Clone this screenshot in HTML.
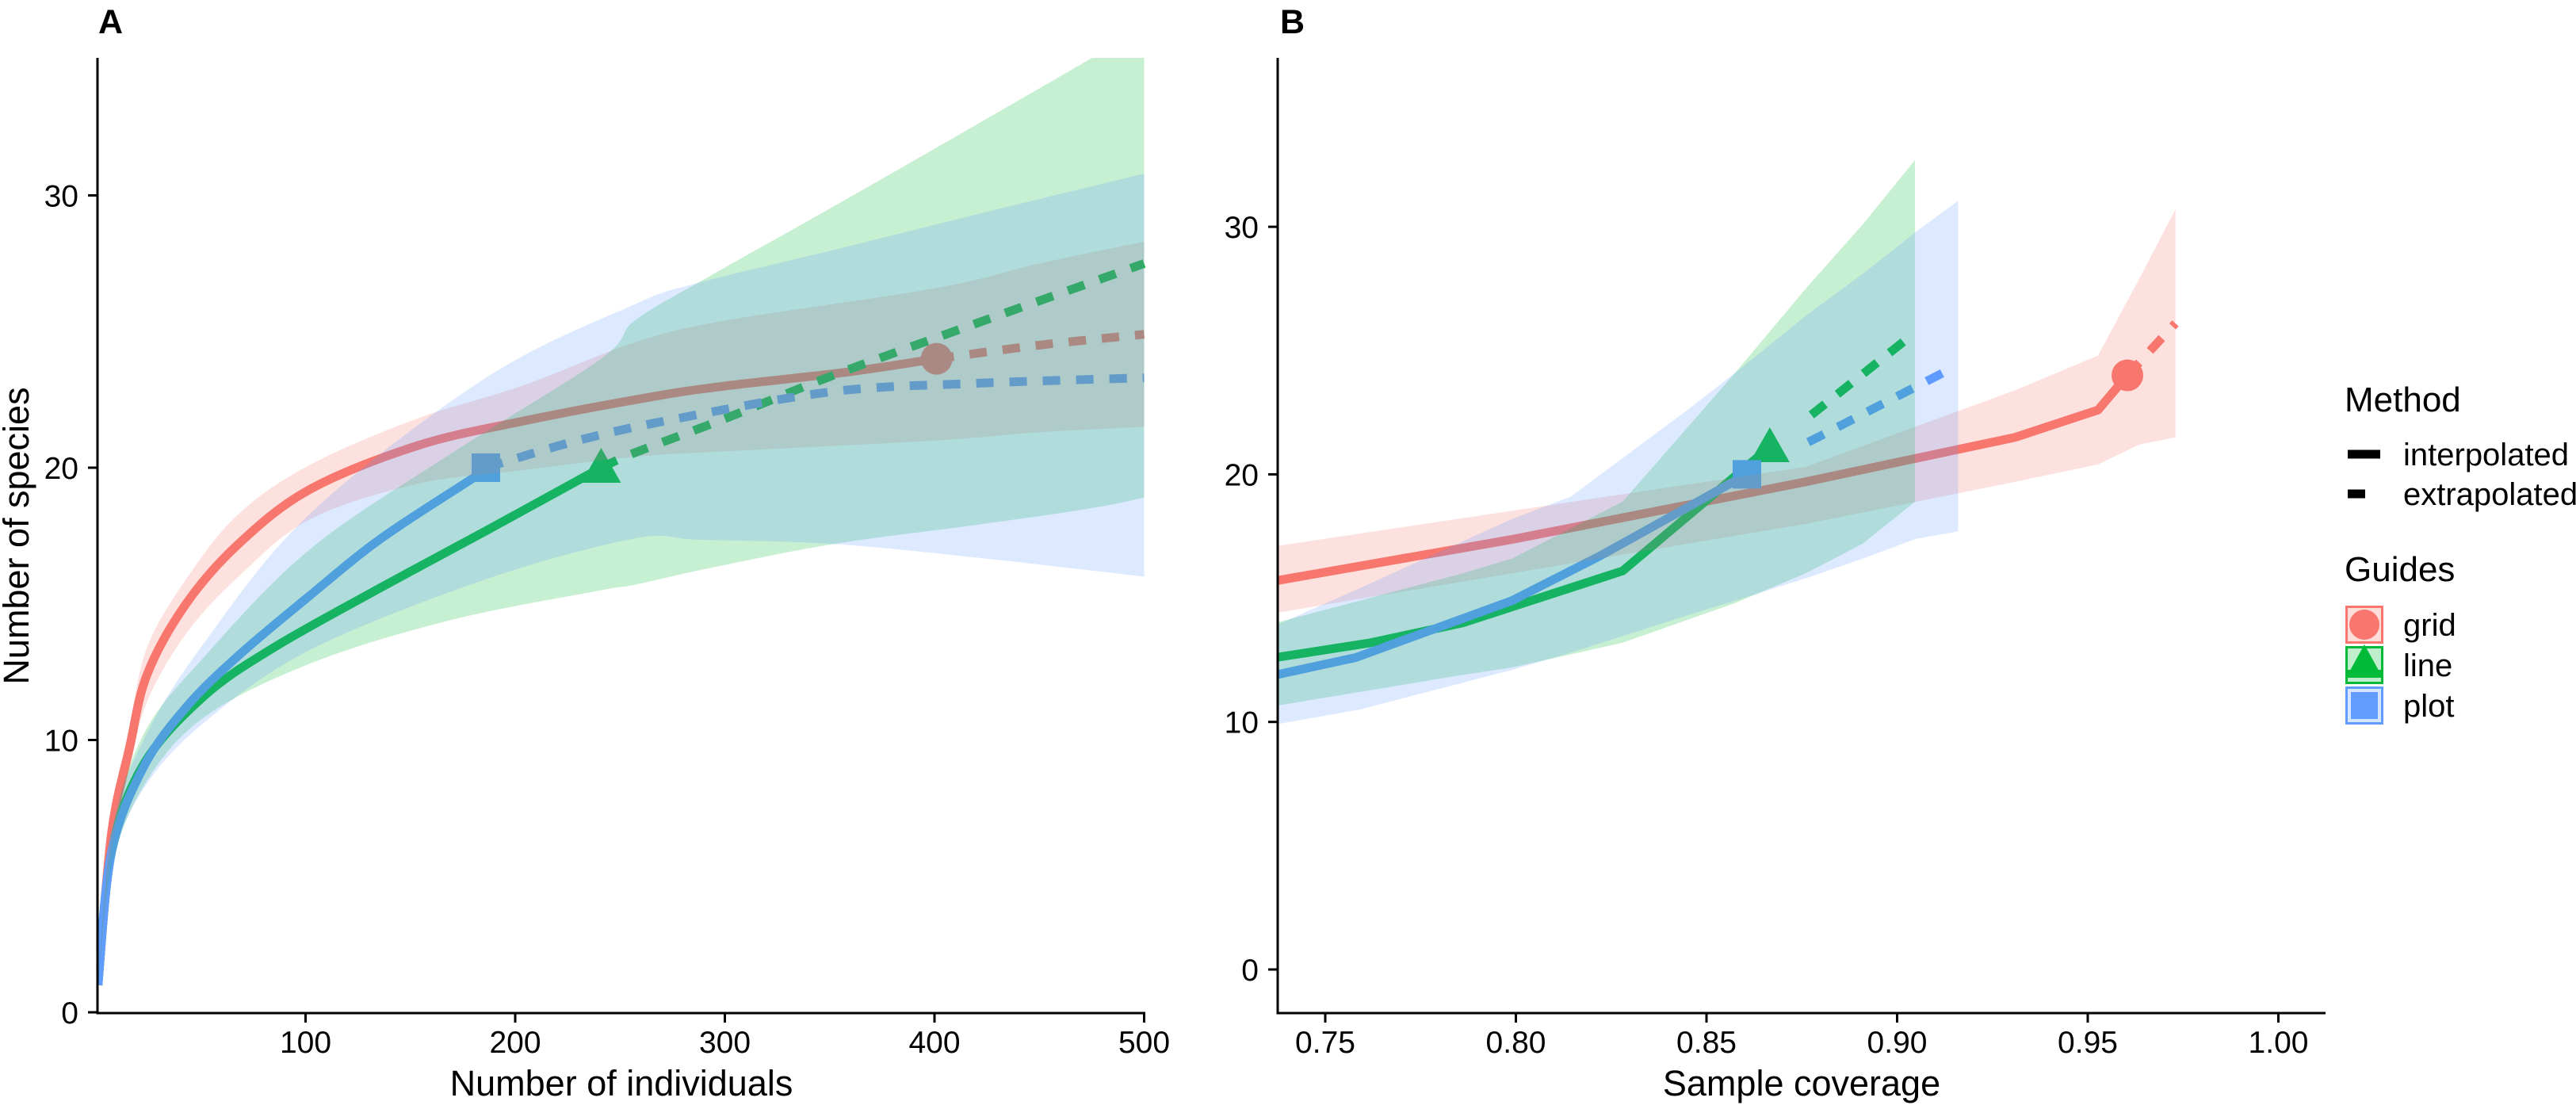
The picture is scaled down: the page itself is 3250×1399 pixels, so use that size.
<!DOCTYPE html>
<html><head><meta charset="utf-8"><style>
html,body{margin:0;padding:0;background:#fff;}
svg text{font-family:"Liberation Sans",Arial,sans-serif;fill:#000;}
</style></head><body>
<svg id="chart" width="3250" height="1394" viewBox="0 0 3250 1394" xmlns="http://www.w3.org/2000/svg">
<defs>
<clipPath id="clipA"><rect x="123" y="73" width="1322" height="1205"/></clipPath>
<clipPath id="clipB"><rect x="1612" y="73" width="1322" height="1205"/></clipPath>
</defs>
<g id="panelA"></g>
<g id="panelB"></g>
<g id="legend"></g>
</svg>
<script>
// ---------- Panel A data (Number of individuals) ----------
const aXTicks = [100, 200, 300, 400, 500];
const aYTicks = [0, 10, 20, 30];
const aGridInterpX = [1, 7.5, 16, 24.4, 43, 68, 102, 153, 203, 265, 300, 357, 401];
const aGridInterpY = [1, 6.6, 9.7, 12.4, 15.0, 17.2, 19.2, 20.8, 21.7, 22.6, 23.0, 23.5, 24.0];
const aGridExtraX = [401, 450, 500];
const aGridExtraY = [24.0, 24.5, 24.9];
const aGridBandX = [1, 7.5, 16, 24.4, 43, 68, 102, 153, 203, 257, 300, 401, 450, 500];
const aGridBandLo = [1, 6, 8.9, 11.4, 13.9, 16, 18.1, 19.4, 19.9, 20.4, 20.6, 21.0, 21.3, 21.5];
const aGridBandHi = [1, 7.2, 10.5, 13.4, 15.9, 18.3, 20.1, 21.8, 23.0, 24.6, 25.4, 26.6, 27.5, 28.3];
const aPlotInterpX = [1, 7.5, 22.7, 43, 68, 102, 136, 181.5, 186];
const aPlotInterpY = [1, 5.9, 9.0, 11.2, 13.1, 15.3, 17.4, 19.7, 20];
const aPlotExtraX = [186, 230, 277, 352, 420, 500];
const aPlotExtraY = [20, 21.0, 21.8, 22.8, 23.1, 23.3];
const aPlotBandX = [1, 7.5, 22.7, 51, 102, 186, 257, 288, 352, 420, 500];
const aPlotBandLo = [1, 5.4, 8.2, 10.6, 13.3, 15.9, 17.4, 17.35, 17.2, 16.7, 16.0];
const aPlotBandHi = [1, 6.6, 10.0, 13.5, 18.3, 23.3, 26.0, 26.8, 28.0, 29.3, 30.8];
const aLineInterpX = [1, 7.5, 22.7, 51.4, 85, 136, 186.5, 241];
const aLineInterpY = [1, 5.9, 9.1, 11.6, 13.4, 15.6, 17.7, 20];
const aLineExtraX = [241, 257, 300, 352, 420, 500];
const aLineExtraY = [20, 20.55, 21.8, 23.4, 25.3, 27.5];
const aLineBandX = [1, 7.5, 22.7, 51, 102, 169, 241, 257, 292, 352, 420, 474, 500];
const aLineBandLo = [1, 5.3, 8.3, 10.8, 12.8, 14.4, 15.5, 15.7, 16.3, 17.2, 17.9, 18.5, 18.9];
const aLineBandHi = [1, 6.5, 10.2, 13.0, 17.0, 20.5, 24.0, 25.4, 27.0, 29.6, 32.6, 35, 36.2];

// ---------- Panel B data (Sample coverage) ----------
const bXTicks = [0.75, 0.80, 0.85, 0.90, 0.95, 1.00];
const bXTickLabels = ["0.75", "0.80", "0.85", "0.90", "0.95", "1.00"];
const bYTicks = [0, 10, 20, 30];
const bGridInterpX = [0.737, 0.80, 0.876, 0.931, 0.9527, 0.9604];
const bGridInterpY = [15.7, 17.4, 19.7, 21.5, 22.6, 24.0];
const bGridExtraX = [0.9604, 0.973];
const bGridExtraY = [24.0, 26.1];
const bGridBandX = [0.737, 0.876, 0.931, 0.9527, 0.9635, 0.973];
const bGridBandLo = [14.4, 18.0, 19.7, 20.4, 21.2, 21.5];
const bGridBandHi = [17.1, 20.3, 23.4, 24.8, 27.9, 30.7];
const bLineInterpX = [0.737, 0.762, 0.786, 0.828, 0.8666];
const bLineInterpY = [12.6, 13.2, 14.0, 16.1, 21.1];
const bLineExtraX = [0.8775, 0.902];
const bLineExtraY = [22.4, 25.4];
const bLineBandX = [0.737, 0.786, 0.799, 0.828, 0.8575, 0.876, 0.891, 0.9047];
const bLineBandLo = [10.65, 11.9, 12.2, 13.2, 14.8, 16.0, 17.2, 18.9];
const bLineBandHi = [14.0, 16.0, 16.6, 18.9, 24.1, 27.5, 30.1, 32.7];
const bPlotInterpX = [0.737, 0.758, 0.799, 0.822, 0.8606];
const bPlotInterpY = [11.9, 12.6, 14.9, 16.7, 20.0];
const bPlotExtraX = [0.8767, 0.912];
const bPlotExtraY = [21.3, 24.1];
const bPlotBandX = [0.737, 0.759, 0.799, 0.8144, 0.845, 0.8575, 0.876, 0.891, 0.905, 0.916];
const bPlotBandLo = [9.9, 10.5, 12.1, 12.8, 14.3, 14.9, 15.8, 16.6, 17.4, 17.7];
const bPlotBandHi = [13.9, 15.4, 18.2, 19.1, 22.6, 24.1, 26.4, 28.1, 29.8, 31.05];

const COLORS = {grid: "#F8766D", line: "#00BA38", plot: "#619CFF"};
const NS = "http://www.w3.org/2000/svg";
function mk(tag, attrs, parent) {
  const e = document.createElementNS(NS, tag);
  for (const k in attrs) e.setAttribute(k, attrs[k]);
  parent.appendChild(e);
  return e;
}
function linScale(d0, d1, r0, r1) { return v => r0 + (v - d0) / (d1 - d0) * (r1 - r0); }

// path through points; smooth uses Catmull-Rom
function pathD(pts, smooth, move) {
  let d = (move ? "M" : "L") + pts[0][0].toFixed(1) + "," + pts[0][1].toFixed(1);
  for (let i = 0; i < pts.length - 1; i++) {
    const p1 = pts[i], p2 = pts[i + 1];
    if (!smooth) { d += "L" + p2[0].toFixed(1) + "," + p2[1].toFixed(1); continue; }
    const p0 = pts[i - 1] || p1, p3 = pts[i + 2] || p2;
    const c1x = p1[0] + (p2[0] - p0[0]) / 6, c1y = p1[1] + (p2[1] - p0[1]) / 6;
    const c2x = p2[0] - (p3[0] - p1[0]) / 6, c2y = p2[1] - (p3[1] - p1[1]) / 6;
    d += "C" + c1x.toFixed(1) + "," + c1y.toFixed(1) + " " + c2x.toFixed(1) + "," + c2y.toFixed(1) + " " + p2[0].toFixed(1) + "," + p2[1].toFixed(1);
  }
  return d;
}

function drawMarker(g, kind, cx, cy, color) {
  let m;
  if (kind === "grid") m = mk("circle", {cx: cx, cy: cy, r: 20, fill: color}, g);
  else if (kind === "line") m = mk("polygon", {points: (cx - 25) + "," + (cy + 19) + " " + (cx + 25) + "," + (cy + 19) + " " + cx + "," + (cy - 25), fill: color}, g);
  else m = mk("rect", {x: cx - 18, y: cy - 18, width: 36, height: 36, fill: color}, g);
  return m;
}

function drawPanel(g, clipId, sx, sy, axisX0, axisX1, xTicks, xLabels, yTicks, xTitle, titleX, panelLabel, labelX, series, smooth) {
  const plot = mk("g", {"clip-path": "url(#" + clipId + ")"}, g);
  series.forEach(s => {
    const pts = s.ix.map((v, i) => [sx(v), sy(s.iy[i])]);
    const l = mk("path", {d: pathD(pts, smooth, true), fill: "none", stroke: COLORS[s.k], "stroke-width": 11, "stroke-linejoin": "round"}, plot);
    
    
    const ep = s.ex.map((v, i) => [sx(v), sy(s.ey[i])]);
    const d = mk("path", {d: pathD(ep, smooth, true), fill: "none", stroke: COLORS[s.k], "stroke-width": 11, "stroke-dasharray": "22 20"}, plot);
    
    
  });
  series.forEach(s => {
    const n = s.ix.length - 1;
    const m = drawMarker(plot, s.k, sx(s.ix[n]), sy(s.iy[n]), COLORS[s.k]);
    
    
  });
  series.forEach(s => {
    const up = s.bx.map((v, i) => [sx(v), sy(s.bh[i])]);
    const lo = s.bx.map((v, i) => [sx(v), sy(s.bl[i])]).reverse();
    const dd = pathD(up, smooth, true) + pathD(lo, smooth, false) + "Z";
    const b = mk("path", {d: dd, fill: COLORS[s.k], "fill-opacity": 0.22}, plot);
    
    
  });
  const xa = mk("line", {x1: axisX0, y1: 1278, x2: axisX1, y2: 1278, stroke: "#000", "stroke-width": 3}, g);
  
  
  const ya = mk("line", {x1: axisX0, y1: 73, x2: axisX0, y2: 1279.5, stroke: "#000", "stroke-width": 3}, g);
  
  
  xTicks.forEach((v, i) => {
    const x = sx(v);
    mk("line", {x1: x, y1: 1278, x2: x, y2: 1290, stroke: "#000", "stroke-width": 3}, g);
    const t = mk("text", {x: x, y: 1328, "font-size": 39, "text-anchor": "middle"}, g);
    t.textContent = xLabels[i];
    
    
  });
  yTicks.forEach(v => {
    const y = sy(v);
    mk("line", {x1: axisX0 - 12, y1: y, x2: axisX0, y2: y, stroke: "#000", "stroke-width": 3}, g);
    const t = mk("text", {x: axisX0 - 24, y: y + 14, "font-size": 39, "text-anchor": "end"}, g);
    t.textContent = String(v);
    
    
  });
  const xt = mk("text", {x: titleX, y: 1382, "font-size": 45, "text-anchor": "middle"}, g);
  xt.textContent = xTitle;
  
  
  const pl = mk("text", {x: labelX, y: 42, "font-size": 43, "font-weight": "bold"}, g);
  pl.textContent = panelLabel;
  
  
}

const sxA = linScale(0, 100, 121, 385.5);
const syA = linScale(0, 10, 1277, 933.5);
drawPanel(document.getElementById("panelA"), "clipA", sxA, syA, 123, 1445, aXTicks, aXTicks.map(String), aYTicks,
  "Number of individuals", 784, "A", 124, [
  {k: "grid", ix: aGridInterpX, iy: aGridInterpY, ex: aGridExtraX, ey: aGridExtraY, bx: aGridBandX, bl: aGridBandLo, bh: aGridBandHi},
  {k: "line", ix: aLineInterpX, iy: aLineInterpY, ex: aLineExtraX, ey: aLineExtraY, bx: aLineBandX, bl: aLineBandLo, bh: aLineBandHi},
  {k: "plot", ix: aPlotInterpX, iy: aPlotInterpY, ex: aPlotExtraX, ey: aPlotExtraY, bx: aPlotBandX, bl: aPlotBandLo, bh: aPlotBandHi}
], true);
const yTitle = mk("text", {x: 0, y: 0, "font-size": 45, "text-anchor": "middle", transform: "translate(36,676) rotate(-90)"}, document.getElementById("panelA"));
yTitle.textContent = "Number of species";



const sxB = linScale(0.75, 0.80, 1672, 1912.5);
const syB = linScale(0, 10, 1223, 910.7);
drawPanel(document.getElementById("panelB"), "clipB", sxB, syB, 1612, 2934, bXTicks, bXTickLabels, bYTicks,
  "Sample coverage", 2273, "B", 1615, [
  {k: "grid", ix: bGridInterpX, iy: bGridInterpY, ex: bGridExtraX, ey: bGridExtraY, bx: bGridBandX, bl: bGridBandLo, bh: bGridBandHi},
  {k: "line", ix: bLineInterpX, iy: bLineInterpY, ex: bLineExtraX, ey: bLineExtraY, bx: bLineBandX, bl: bLineBandLo, bh: bLineBandHi},
  {k: "plot", ix: bPlotInterpX, iy: bPlotInterpY, ex: bPlotExtraX, ey: bPlotExtraY, bx: bPlotBandX, bl: bPlotBandLo, bh: bPlotBandHi}
], false);

const lg = document.getElementById("legend");
const mt = mk("text", {x: 2958, y: 519, "font-size": 44}, lg); mt.textContent = "Method";


mk("line", {x1: 2962, y1: 573, x2: 3003, y2: 573, stroke: "#000", "stroke-width": 11}, lg);
mk("line", {x1: 2962, y1: 623, x2: 2984, y2: 623, stroke: "#000", "stroke-width": 11}, lg);
const li = mk("text", {x: 3032, y: 587, "font-size": 40}, lg); li.textContent = "interpolated";


const le = mk("text", {x: 3032, y: 637, "font-size": 40}, lg); le.textContent = "extrapolated";


const gt = mk("text", {x: 2958, y: 733, "font-size": 44}, lg); gt.textContent = "Guides";


const guideKeys = ["grid", "line", "plot"];
guideKeys.forEach((k, i) => {
  const y0 = 764 + i * 51;
  mk("rect", {x: 2960.5, y: y0 + 1.5, width: 45, height: 45, fill: COLORS[k], "fill-opacity": 0.25, stroke: COLORS[k], "stroke-width": 3}, lg);
  if (k === "line") {
    mk("polygon", {points: "2961," + (y0 + 38) + " 3005," + (y0 + 38) + " 2983," + (y0 - 2), fill: COLORS[k]}, lg);
    mk("rect", {x: 2961, y: y0 + 30, width: 44, height: 10, fill: COLORS[k]}, lg);
  } else if (k === "grid") {
    mk("circle", {cx: 2983, cy: y0 + 24, r: 19, fill: COLORS[k]}, lg);
  } else {
    mk("rect", {x: 2966, y: y0 + 7, width: 34, height: 34, fill: COLORS[k]}, lg);
  }
  const t = mk("text", {x: 3032, y: y0 + 38, "font-size": 40}, lg);
  t.textContent = k;
  
  
});
</script>
</body></html>
